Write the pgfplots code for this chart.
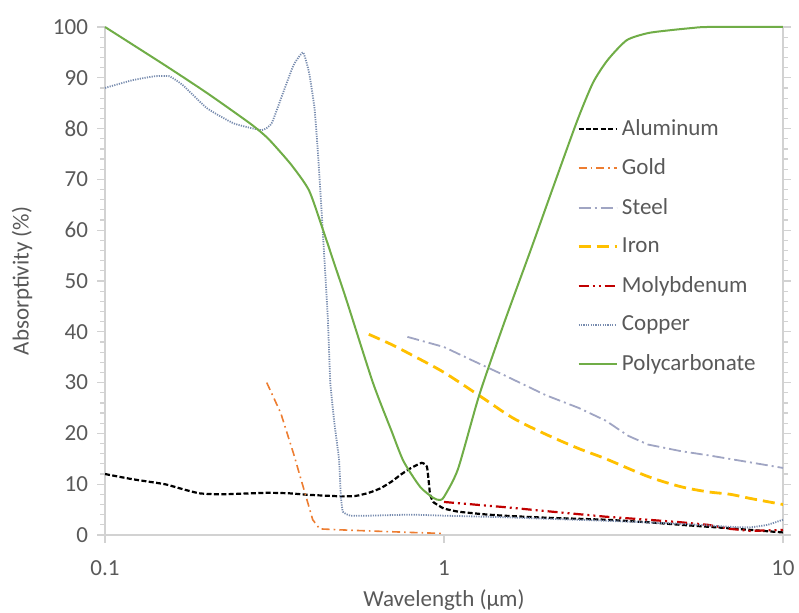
\documentclass[border=0pt]{standalone}
\usepackage{fontspec}
\setmainfont{Carlito}
\usepackage{pgfplots}
\pgfplotsset{compat=1.18}
\definecolor{txt}{RGB}{89,89,89}
\definecolor{axc}{RGB}{210,210,210}
\definecolor{cgold}{RGB}{237,125,49}
\definecolor{csteel}{RGB}{160,165,195}
\definecolor{ciron}{RGB}{255,192,0}
\definecolor{cmoly}{RGB}{192,0,0}
\definecolor{ccopper}{RGB}{120,140,175}
\definecolor{cpoly}{RGB}{112,173,71}
\begin{document}
\begin{tikzpicture}
\begin{axis}[
  name=ax,
  scale only axis, width=339pt, height=254pt,
  xmode=log, log basis x=10,
  xmin=0.1, xmax=10, ymin=0, ymax=100,
  xtick={0.1,1,10}, xticklabels={\textrm{0.1},\textrm{1},\textrm{10}},
  ytick={0,10,...,100},
  minor y tick num=4,
  axis x line*=bottom, axis y line*=box,
  axis line style={axc, line width=0.6pt},
  tick style={axc, line width=0.6pt},
  major tick length=4pt, minor tick length=2.5pt,
  tick align=outside,
  /pgf/number format/assume math mode=true,
  yticklabel={\pgfmathprintnumber{\tick}},
  ticklabel style={font=\fontsize{11.5}{13}\selectfont, text=txt},
  yticklabel style={xshift=-1pt},
  xticklabel style={yshift=-5.5pt},
  xlabel={Wavelength (µm)}, ylabel={Absorptivity (\%)},
  label style={font=\fontsize{11.5}{13}\selectfont, text=txt},
  xlabel style={yshift=0pt},
  ylabel style={yshift=3.5pt},
  legend style={at={(rel axis cs:0.687,0.835)}, anchor=north west, draw=none, fill=none,
    font=\fontsize{11.5}{13}\selectfont, text=txt, row sep=6.3pt,
    nodes={inner sep=2pt, anchor=west}},
  legend cell align=left,
  legend image code/.code={\draw[#1] (0pt,0pt) -- (19pt,0pt);},
  clip=false,
]
% Aluminum
\addplot[black, line width=1.1pt, dash pattern=on 2.5pt off 1.2pt, smooth, tension=0.3] coordinates {
(0.1,12)(0.12,11)(0.15,10)(0.17,9)(0.19,8.2)(0.22,8)(0.3,8.3)(0.35,8.2)(0.4,7.9)(0.5,7.6)(0.55,7.7)(0.6,8.3)(0.65,9.2)(0.7,10.5)(0.75,12)(0.8,13.2)(0.86,14.2)(0.89,13.5)(0.9,11)(0.91,8)(0.93,6.5)(0.97,5.7)(1,5.2)(1.1,4.6)(1.3,4.1)(1.5,3.8)(2,3.4)(3,3)(4,2.5)(5,2)(7,1.3)(10,0.5)};
\addlegendentry{Aluminum}
% Gold
\addplot[cgold, line width=0.8pt, dash pattern=on 4pt off 2pt on 0.8pt off 2pt] coordinates {
(0.3,30)(0.33,24)(0.36,16)(0.39,8)(0.41,3)(0.43,1.2)(0.5,1)(0.6,0.8)(0.8,0.5)(1,0.3)};
\addlegendentry{Gold}
% Steel
\addplot[csteel, line width=0.9pt, dash pattern=on 6pt off 2pt on 1pt off 2pt] coordinates {
(0.78,39)(1,37)(1.2,34.5)(1.5,31.5)(2,27.5)(2.5,25)(3,22.5)(3.5,19.5)(4,17.8)(5,16.5)(6,15.7)(8,14.3)(10,13.2)};
\addlegendentry{Steel}
% Iron
\addplot[ciron, line width=1.4pt, dash pattern=on 6pt off 3pt, smooth] coordinates {
(0.6,39.5)(0.7,37.5)(0.8,35.5)(1,32)(1.3,27)(1.6,23)(2,19.8)(2.5,17)(3,15)(4,11.5)(5,9.5)(6,8.5)(7,8)(8,7.2)(10,6)};
\addlegendentry{Iron}
% Molybdenum
\addplot[cmoly, line width=1.1pt, dash pattern=on 5pt off 2pt on 1pt off 2pt on 1pt off 2pt] coordinates {
(1,6.5)(1.5,5.5)(2,4.7)(3,3.6)(4,3)(5,2.5)(6,2)(7,1.2)(8,0.8)(9,0.9)(10,1)};
\addlegendentry{Molybdenum}
% Copper
\addplot[ccopper, line width=0.9pt, dash pattern=on 0.6pt off 0.6pt, smooth, tension=0.25] coordinates {
(0.1,88)(0.12,89.5)(0.14,90.3)(0.155,90.3)(0.17,88.5)(0.2,84)(0.24,81)(0.29,79.7)(0.31,81)(0.335,87)(0.36,92.5)(0.384,95)(0.4,91)(0.415,84)(0.425,75)(0.437,62)(0.454,43)(0.462,30)(0.475,22)(0.49,15)(0.496,8)(0.503,4.6)(0.53,3.8)(0.6,3.8)(0.8,4)(1,3.8)(1.5,3.5)(2,3.2)(3,2.8)(5,2.2)(7,1.6)(8,1.5)(9,2)(10,3)};
\addlegendentry{Copper}
% Polycarbonate
\addplot[cpoly, line width=1pt, smooth, tension=0.4] coordinates {
(0.1,100)(0.15,92.5)(0.2,87)(0.268,81)(0.3,78.3)(0.328,75.5)(0.358,72.5)(0.4,67.8)(0.44,60)(0.477,53)(0.517,46)(0.617,30)(0.7,20.5)(0.76,14.5)(0.85,9.5)(0.93,7.3)(0.97,6.9)(1,7.5)(1.1,13)(1.27,27.5)(1.5,41.5)(1.8,56)(2.1,68.5)(2.47,81.5)(2.75,89)(3.04,93.5)(3.46,97.4)(4,98.8)(4.7,99.4)(5.4,99.8)(6,100)(10,100)};
\addlegendentry{Polycarbonate}
\end{axis}
\pgfresetboundingbox
\path ([shift={(-52.5pt,-39pt)}]ax.south west) rectangle ([shift={(8pt,13.5pt)}]ax.north east);
\end{tikzpicture}
\end{document}
